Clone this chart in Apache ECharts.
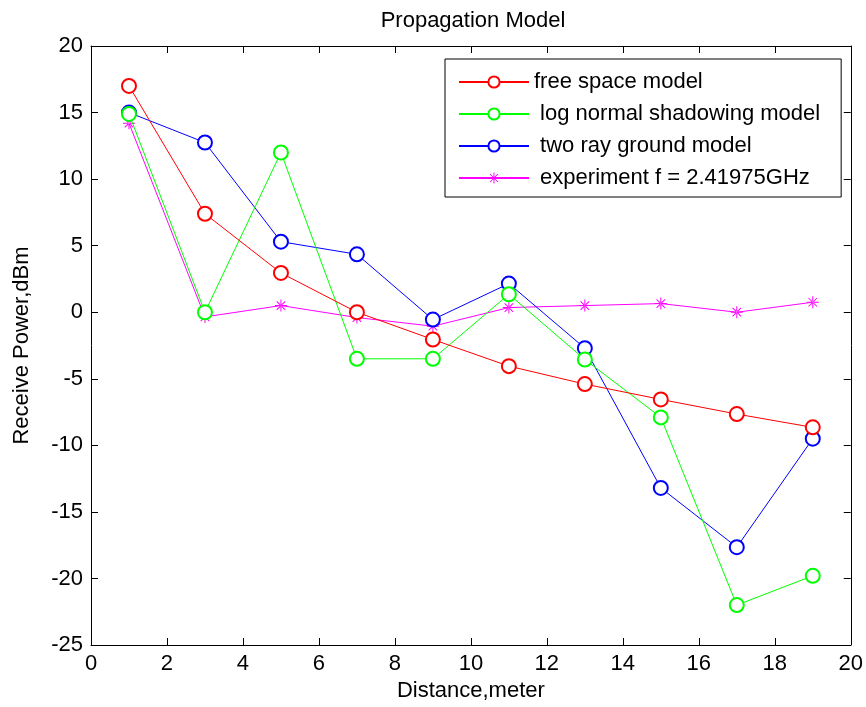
<!DOCTYPE html>
<html>
<head>
<meta charset="UTF-8">
<title>Propagation Model</title>
<script src="https://cdn.jsdelivr.net/npm/echarts@6/dist/echarts.min.js"></script>
<style>
	* { margin: 0; padding: 0; }
	body { background: #fff; }
</style>
</head>
<body>
<div id="main" style="width: 866px;height: 707px;"></div>
<script>
	// distances (meter)
	var distance = [1, 3, 5, 7, 9, 11, 13, 15, 17, 19];
	var freeSpace = [17.0, 7.4, 2.95, 0.0, -2.05, -4.05, -5.4, -6.55, -7.65, -8.65];
	var logNormal = [14.9, 0.0, 12.0, -3.5, -3.5, 1.35, -3.55, -7.9, -22.0, -19.8];
	var twoRay = [15.0, 12.75, 5.3, 4.35, -0.55, 2.15, -2.7, -13.2, -17.65, -9.5];
	var experiment = [14.2, -0.35, 0.5, -0.4, -1.05, 0.35, 0.5, 0.65, 0.0, 0.75];

	var seriesNames = ['free space model', ' log normal shadowing model', ' two ray ground model', ' experiment f = 2.41975GHz'];
	var seriesColors = ['#ff0000', '#00ff00', '#0000ff', '#ff00ff'];

	// asterisk marker
	var starPath = 'path://M-0.5,-6H0.5V6H-0.5Z M-6,-0.5H6V0.5H-6Z ' +
		'M-4.6,-3.9L3.9,4.6L4.6,3.9L-3.9,-4.6Z M3.9,-4.6L-4.6,3.9L-3.9,4.6L4.6,-3.9Z';

	function pairs(ys) {
		var out = [];
		for (var i = 0; i < distance.length; i++) out.push([distance[i], ys[i]]);
		return out;
	}

	var font = 'Liberation Sans, Arial, sans-serif';
	var chart = echarts.init(document.getElementById('main'));

	var allData = [freeSpace, logNormal, twoRay, experiment];
	var series = [];
	for (var k = 0; k < 4; k++) {
		series.push({
			name: seriesNames[k],
			type: 'line',
			data: pairs(allData[k]),
			symbol: k == 3 ? starPath : 'emptyCircle',
			symbolSize: k == 3 ? 12 : 14,
			showAllSymbol: true,
			lineStyle: { color: seriesColors[k], width: 1 },
			itemStyle: { color: seriesColors[k], borderColor: seriesColors[k], borderWidth: k == 3 ? 0 : 1.2 },
			emphasis: { disabled: true },
			z: 10 - k
		});
	}

	var tickStyle = { inside: true, length: 7, lineStyle: { color: '#000' } };
	var lineStyleAxis = { onZero: false, lineStyle: { color: '#000', width: 1 } };

	var option = {
		backgroundColor: '#fff',
		animation: false,
		title: {
			text: 'Propagation Model',
			left: 468,
			textAlign: 'center',
			top: 5,
			textStyle: { fontFamily: font, fontSize: 22, fontWeight: 'normal', color: '#000' }
		},
		grid: { left: 91, right: 15, top: 46, bottom: 62 },
		legend: {
			left: 445,
			top: 59,
			orient: 'vertical',
			itemWidth: 70,
			itemHeight: 14,
			itemGap: 10,
			padding: [12, 21, 8, 13],
			borderColor: '#000',
			borderWidth: 1,
			backgroundColor: '#fff',
			selectedMode: false,
			textStyle: { fontFamily: font, fontSize: 22, lineHeight: 22, color: '#000' },
			data: seriesNames
		},
		xAxis: [{
			type: 'value',
			min: 0, max: 20, interval: 2,
			name: 'Distance,meter',
			nameLocation: 'middle',
			nameGap: 34,
			nameTextStyle: { fontFamily: font, fontSize: 22, color: '#000' },
			axisLine: lineStyleAxis,
			axisTick: tickStyle,
			axisLabel: { fontFamily: font, fontSize: 22, color: '#000', margin: 8 },
			splitLine: { show: false }
		}, {
			type: 'value',
			position: 'top',
			min: 0, max: 20, interval: 2,
			axisLine: lineStyleAxis,
			axisTick: tickStyle,
			axisLabel: { show: false },
			splitLine: { show: false }
		}],
		yAxis: [{
			type: 'value',
			min: -25, max: 20, interval: 5,
			name: 'Receive Power,dBm',
			nameLocation: 'middle',
			nameGap: 58,
			nameTextStyle: { fontFamily: font, fontSize: 22, color: '#000' },
			axisLine: { show: true, onZero: false, lineStyle: { color: '#000', width: 1 } },
			axisTick: { show: true, inside: true, length: 7, lineStyle: { color: '#000' } },
			axisLabel: { fontFamily: font, fontSize: 22, color: '#000', margin: 8 },
			splitLine: { show: false }
		}, {
			type: 'value',
			position: 'right',
			min: -25, max: 20, interval: 5,
			axisLine: { show: true, onZero: false, lineStyle: { color: '#000', width: 1 } },
			axisTick: { show: true, inside: true, length: 7, lineStyle: { color: '#000' } },
			axisLabel: { show: false },
			splitLine: { show: false }
		}],
		series: series
	};
	chart.setOption(option);
</script>
</body>
</html>
